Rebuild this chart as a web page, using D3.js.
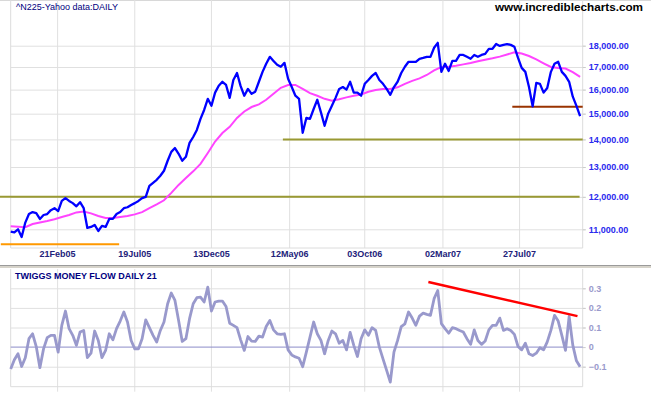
<!DOCTYPE html>
<html>
<head>
<meta charset="utf-8">
<script src="https://cdn.jsdelivr.net/npm/d3@7"></script>
<style>
  body { margin: 0; background: #fff; }
  svg { display: block; }
  text { font-family: "Liberation Sans", Arial, sans-serif; }
</style>
</head>
<body>
<div id="chart"></div>
<script>
// weekly samples of the index, starting here
const startDate = "2004-11-24";
const endDate = "2007-11-26";

const price = [
  10930, 10910, 11000, 10775, 11200, 11460, 11520, 11490, 11310, 11430,
  11460, 11580, 11640, 11550, 11870, 11960, 11870, 11800, 11700, 11830,
  11640, 11040, 11070, 11130, 10950, 11100, 11070, 11310, 11310, 11460,
  11520, 11640, 11670, 11740, 11800, 11870, 11960, 12000, 12360, 12460,
  12560, 12700, 12870, 13220, 13540, 13680, 13470, 13220, 13360, 13870,
  14090, 14360, 14790, 15150, 15610, 15320, 15870, 16170, 16340, 16200,
  15650, 16420, 16730, 16150, 15740, 16030, 15820, 15910, 16340, 16780,
  17150, 17470, 17280, 17100, 17010, 17190, 16470, 16110, 15740, 15610,
  14250, 14830, 14790, 15190, 15570, 15050, 14520, 15010, 15320, 15650,
  16030, 16110, 16000, 16340, 15870, 15870, 15740, 16250, 16420, 16600,
  16730, 16420, 16250, 16030, 15780, 16110, 16340, 16730, 17010, 17240,
  17240, 17240, 17380, 17420, 17470, 17470, 17900, 18140, 16780, 17150,
  16820, 17280, 17280, 17560, 17560, 17470, 17380, 17560, 17470, 17560,
  17610, 17850, 17850, 18080, 17990, 18040, 18080, 18040, 17950, 17420,
  16960, 16780, 16110, 15300, 16290, 16250, 15870, 16070, 16780, 17150,
  17240, 16780, 16600, 16340, 15700, 15320, 14900
];

// moving average, one value every two weeks
const movingAvg = [
  11090, 11075, 11060, 11155, 11200, 11245, 11300, 11370, 11430, 11510,
  11540, 11480, 11400, 11340, 11340, 11370, 11400, 11450, 11520, 11640,
  11760, 11890, 12130, 12390, 12620, 12850, 13110, 13500, 13920, 14240,
  14480, 14830, 15090, 15270, 15380, 15570, 15820, 16080, 16200, 16200,
  16030, 15850, 15740, 15610, 15530, 15590, 15670, 15740, 15790, 15910,
  15980, 16030, 16030, 16100, 16250, 16380, 16490, 16640, 16850, 17000,
  17010, 17060, 17120, 17180, 17260, 17330, 17400, 17480, 17580, 17680,
  17630, 17510, 17350, 17170, 17000, 16950, 16930, 16770, 16560
];

// twiggs money flow 21, weekly
const moneyFlow = [
  -0.112, -0.065, -0.034, -0.099, -0.054, 0.043, 0.068, 0.003, -0.105, -0.009,
  0.048, 0.060, 0.060, -0.026, 0.111, 0.184, 0.094, 0.060, 0.009, 0.077,
  0.085, -0.054, -0.031, 0.082, 0.034, -0.054, -0.017, 0.068, 0.037, 0.094,
  0.133, 0.179, 0.128, 0.034, -0.009, -0.009, 0.043, 0.139, 0.099, 0.060,
  0.026, 0.085, 0.128, 0.221, 0.276, 0.238, 0.136, 0.029, 0.043, 0.145,
  0.221, 0.252, 0.255, 0.230, 0.306, 0.184, 0.230, 0.235, 0.235, 0.207,
  0.122, 0.111, 0.099, 0.037, -0.017, 0.054, 0.031, 0.029, 0.056, 0.051,
  0.105, 0.136, 0.088, 0.068, 0.065, 0.068, -0.014, -0.040, -0.050, -0.057,
  -0.100, -0.026, 0.051, 0.128, 0.068, 0.034, -0.034, 0.034, 0.082, 0.068,
  0.020, 0.034, -0.014, 0.075, 0.009, -0.048, 0.043, 0.088, 0.060, 0.099,
  0.085, 0.000, -0.060, -0.119, -0.179, -0.026, 0.034, 0.105, 0.119, 0.179,
  0.148, 0.111, 0.158, 0.173, 0.167, 0.162, 0.247, 0.289, 0.120, 0.094,
  0.071, 0.099, 0.094, 0.085, 0.077, 0.043, 0.014, 0.088, 0.034, 0.014,
  0.031, 0.088, 0.111, 0.111, 0.148, 0.085, 0.094, 0.085, 0.065, 0.003,
  -0.014, 0.020, -0.034, -0.043, -0.031, -0.003, -0.014, 0.027, 0.085, 0.162,
  0.133, 0.060, -0.017, 0.156, 0.010, -0.070, -0.100
];

const priceTicks = [11000, 12000, 13000, 14000, 15000, 16000, 17000, 18000];
const flowTicks = [-0.1, 0, 0.1, 0.2, 0.3];
const dateTicks = ["2005-02-21", "2005-07-19", "2005-12-13", "2006-05-12", "2006-10-03", "2007-03-02", "2007-07-27"];

// drawn support / resistance lines: [from, to, level]
const supportLines = [
  ["2004-11-03", "2007-11-20", 12000],
  ["2006-04-30", "2007-11-26", 14000],
  ["2004-11-05", "2005-06-20", 10570],
  ["2007-07-14", "2007-11-26", 15280]
];
const supportColors = ["#999933", "#999933", "#ff9900", "#993300"];
const flowTrend = [["2007-02-03", 0.332], ["2007-11-16", 0.158]];

const W = 651, H = 395;
const left = 10.7, right = 582.7;
const upTop = 0, upBottom = 248;
const loTop = 269, loBottom = 386.7;

const parse = d3.utcParse("%Y-%m-%d");
const t0 = parse(startDate);

const pricePts = price.map((v, i) => ({ date: d3.utcDay.offset(t0, 7 * i), value: v }));
const maPts = movingAvg.map((v, i) => ({ date: d3.utcDay.offset(t0, 14 * i), value: v }));
const flowPts = moneyFlow.map((v, i) => ({ date: d3.utcDay.offset(t0, 7 * i), value: v }));

const x = d3.scaleUtc().domain([t0, parse(endDate)]).range([left, right]);
const yP = d3.scaleLog().domain([11000, 18000]).range([229.3, 45.7]);
const yF = d3.scaleLinear().domain([-0.1, 0.3]).range([366.7, 288.3]);

const svg = d3.select("#chart").append("svg")
  .attr("width", W).attr("height", H);

svg.append("rect").attr("width", W).attr("height", H).attr("fill", "#fff");
svg.append("line").attr("x1", 0).attr("x2", W).attr("y1", 0.5).attr("y2", 0.5)
  .attr("stroke", "#d8d8d8");

// grids
function grid(g) {
  g.selectAll(".domain").remove();
  g.selectAll(".tick line").attr("stroke", "#e0e0e0");
}

svg.append("g").attr("transform", `translate(0,${upBottom})`)
  .call(d3.axisBottom(x).tickValues(dateTicks.map(parse)).tickSize(-(upBottom - upTop)).tickFormat(""))
  .call(grid);
svg.append("g").attr("transform", `translate(0,${loBottom + 5})`)
  .call(d3.axisBottom(x).tickValues(dateTicks.map(parse)).tickSize(-(loBottom + 5 - loTop)).tickFormat(""))
  .call(grid);
svg.append("g").attr("transform", `translate(${right + 3},0)`)
  .call(d3.axisLeft(yP).tickValues(priceTicks).tickSize(right + 3 - left).tickFormat(""))
  .call(grid);
svg.append("g").attr("transform", `translate(${right + 3},0)`)
  .call(d3.axisLeft(yF).tickValues(flowTicks.filter(d => d !== 0)).tickSize(right + 3 - left).tickFormat(""))
  .call(grid);

// frames
[[upTop, upBottom], [loTop, loBottom]].forEach(([a, b]) => {
  svg.append("path")
    .attr("d", `M${left},${a}V${b}H${right}V${a}`)
    .attr("fill", "none").attr("stroke", "#dcdcdc");
});

// panel separator
svg.append("rect").attr("x", 0).attr("y", 265).attr("width", W).attr("height", 3).attr("fill", "#d6d3ca");
svg.append("line").attr("x1", 0).attr("x2", W).attr("y1", 265.5).attr("y2", 265.5).attr("stroke", "#9a9a9a");

// axis labels
const labelFont = "bold 9px 'Liberation Sans', Arial, sans-serif";

const xAxis = svg.append("g").attr("transform", `translate(0,${upBottom})`)
  .call(d3.axisBottom(x).tickValues(dateTicks.map(parse)).tickSize(0).tickPadding(3)
    .tickFormat(d3.utcFormat("%d%b%y")));
xAxis.select(".domain").remove();
xAxis.selectAll("text").style("font", labelFont).attr("fill", "#22227a");

const yAxis = svg.append("g").attr("transform", `translate(${right},0)`)
  .call(d3.axisRight(yP).tickValues(priceTicks).tickSize(3).tickPadding(3)
    .tickFormat(d3.format(",.2f")));
yAxis.select(".domain").remove();
yAxis.selectAll(".tick line").attr("stroke", "#cccccc");
yAxis.selectAll("text").style("font", labelFont).attr("fill", "#2a2aee");

const fAxis = svg.append("g").attr("transform", `translate(${right},0)`)
  .call(d3.axisRight(yF).tickValues(flowTicks).tickSize(3).tickPadding(3)
    .tickFormat(d => d === 0 ? "0" : d3.format(".1f")(d)));
fAxis.select(".domain").remove();
fAxis.selectAll(".tick line").attr("stroke", "#cccccc");
fAxis.selectAll("text").style("font", labelFont).attr("fill", "#9a9acc");

// support lines
supportLines.forEach((s, i) => {
  svg.append("line")
    .attr("x1", x(parse(s[0]))).attr("x2", x(parse(s[1])))
    .attr("y1", yP(s[2])).attr("y2", yP(s[2]))
    .attr("stroke", supportColors[i]).attr("stroke-width", 2);
});

// price panel lines
const lineP = d3.line().x(d => x(d.date)).y(d => yP(d.value));
svg.append("path").datum(maPts).attr("d", lineP)
  .attr("fill", "none").attr("stroke", "#ff44ff").attr("stroke-width", 2);
svg.append("path").datum(pricePts).attr("d", lineP)
  .attr("fill", "none").attr("stroke", "#0000ff").attr("stroke-width", 2.3)
  .attr("stroke-linejoin", "round");

// money flow panel
svg.append("line").attr("x1", left).attr("x2", right)
  .attr("y1", yF(0)).attr("y2", yF(0))
  .attr("stroke", "#8c8cc8").attr("stroke-width", 1);

const lineF = d3.line().x(d => x(d.date)).y(d => yF(d.value));
svg.append("path").datum(flowPts).attr("d", lineF)
  .attr("fill", "none").attr("stroke", "#9999cc").attr("stroke-width", 2.8)
  .attr("stroke-linejoin", "round");

svg.append("line")
  .attr("x1", x(parse(flowTrend[0][0]))).attr("y1", yF(flowTrend[0][1]))
  .attr("x2", x(parse(flowTrend[1][0]))).attr("y2", yF(flowTrend[1][1]))
  .attr("stroke", "#ff0000").attr("stroke-width", 2.5);

// titles
svg.append("text").attr("x", 16).attr("y", 9.5)
  .style("font", "9px 'Liberation Sans', Arial, sans-serif").attr("fill", "#000080")
  .text("^N225-Yahoo data:DAILY");
svg.append("text").attr("x", 495).attr("y", 10.7)
  .attr("textLength", 148).attr("lengthAdjust", "spacingAndGlyphs")
  .style("font", "bold 11px 'Liberation Sans', Arial, sans-serif").attr("fill", "#000")
  .text("www.incrediblecharts.com");
svg.append("text").attr("x", 15).attr("y", 279.3)
  .style("font", labelFont).attr("fill", "#000080")
  .text("TWIGGS MONEY FLOW DAILY 21");
</script>
</body>
</html>
